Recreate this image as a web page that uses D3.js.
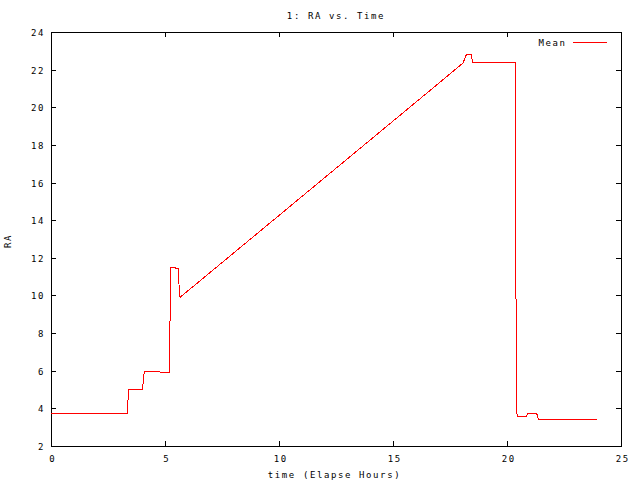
<!DOCTYPE html>
<html>
<head>
<meta charset="utf-8">
<script src="https://cdn.jsdelivr.net/npm/d3@7"></script>
<style>
  html, body { margin: 0; padding: 0; background: #fff; }
  svg { display: block; }
  text { font-family: "DejaVu Sans Mono", monospace; font-size: 9px; letter-spacing: 1.6px; fill: #000; }
</style>
</head>
<body>
<script>
// ---- data ----
const timeHours = [0, 3.35, 3.40, 4.01, 4.09, 4.77, 4.80, 5.20, 5.22, 5.24, 5.45, 5.47, 5.60, 5.62, 5.66,
                   16.68, 18.07, 18.22, 18.44, 18.48, 20.36, 20.37, 20.40, 20.44, 20.85, 20.93, 21.30, 21.38, 23.93];
const raMean    = [3.74, 3.74, 5.01, 5.01, 5.95, 5.95, 5.92, 5.92, 8.70, 11.50, 11.50, 11.44, 11.44, 10.30, 9.90,
                   20.95, 22.35, 22.81, 22.81, 22.39, 22.39, 17.73, 8.32, 3.59, 3.59, 3.74, 3.74, 3.42, 3.42];
const xTicks = [0, 5, 10, 15, 20, 25];
const yTicks = [2, 4, 6, 8, 10, 12, 14, 16, 18, 20, 22, 24];
const titleText = "1: RA vs. Time";
const xLabel = "time (Elapse Hours)";
const yLabel = "RA";
const seriesName = "Mean";

const W = 640, H = 480;
const L = 51, R = 621, T = 32, B = 446;

const svg = d3.select("body").append("svg").attr("width", W).attr("height", H);
svg.append("rect").attr("width", W).attr("height", H).attr("fill", "#fff");

const x = d3.scaleLinear().domain([0, 25]).range([L, R]);
const y = d3.scaleLinear().domain([2, 24]).range([B, T]);

// ticks (inward, on all four sides)
const axB = d3.axisBottom(x).tickValues(xTicks).tickSizeInner(-5).tickSizeOuter(0).tickPadding(0).tickFormat(() => "");
const axT = d3.axisTop(x).tickValues(xTicks).tickSizeInner(-5).tickSizeOuter(0).tickFormat(() => "");
const axL = d3.axisLeft(y).tickValues(yTicks).tickSizeInner(-5).tickSizeOuter(0).tickFormat(() => "");
const axR = d3.axisRight(y).tickValues(yTicks).tickSizeInner(-5).tickSizeOuter(0).tickFormat(() => "");

[[axB, `translate(0,${B})`], [axT, `translate(0,${T})`], [axL, `translate(${L},0)`], [axR, `translate(${R},0)`]]
  .forEach(([ax, tr]) => {
    const g = svg.append("g").attr("transform", tr).call(ax);
    g.select(".domain").remove();
    g.selectAll("line").attr("stroke", "#000").attr("shape-rendering", "crispEdges");
  });

// border
svg.append("rect")
  .attr("x", L + 0.5).attr("y", T + 0.5)
  .attr("width", R - L).attr("height", B - T)
  .attr("fill", "none").attr("stroke", "#000").attr("stroke-width", 1)
  .attr("shape-rendering", "crispEdges");

// tick labels
svg.append("g").selectAll("text").data(yTicks).join("text")
  .attr("x", L - 6).attr("y", d => y(d) + 4)
  .attr("text-anchor", "end").text(d => d);
svg.append("g").selectAll("text").data(xTicks).join("text")
  .attr("x", d => x(d) + 1.8).attr("y", 461.5)
  .attr("text-anchor", "middle").text(d => d);

// titles
svg.append("text").attr("x", 336).attr("y", 18.5).attr("text-anchor", "middle").text(titleText);
svg.append("text").attr("x", 334.5).attr("y", 477.5).attr("text-anchor", "middle").text(xLabel);
svg.append("text").attr("transform", "translate(10.5,241) rotate(-90)").attr("text-anchor", "middle").text(yLabel);

// data line
const line = d3.line().x((d, i) => x(timeHours[i])).y(d => y(d));
svg.append("path").datum(raMean)
  .attr("d", line)
  .attr("fill", "none").attr("stroke", "#ff0000").attr("stroke-width", 1)
  .attr("shape-rendering", "crispEdges");

// legend
svg.append("text").attr("x", 566.5).attr("y", 46).attr("text-anchor", "end").text(seriesName);
svg.append("line").attr("x1", 573).attr("x2", 607).attr("y1", 42.5).attr("y2", 42.5)
  .attr("stroke", "#ff0000").attr("stroke-width", 1).attr("shape-rendering", "crispEdges");
</script>
</body>
</html>
